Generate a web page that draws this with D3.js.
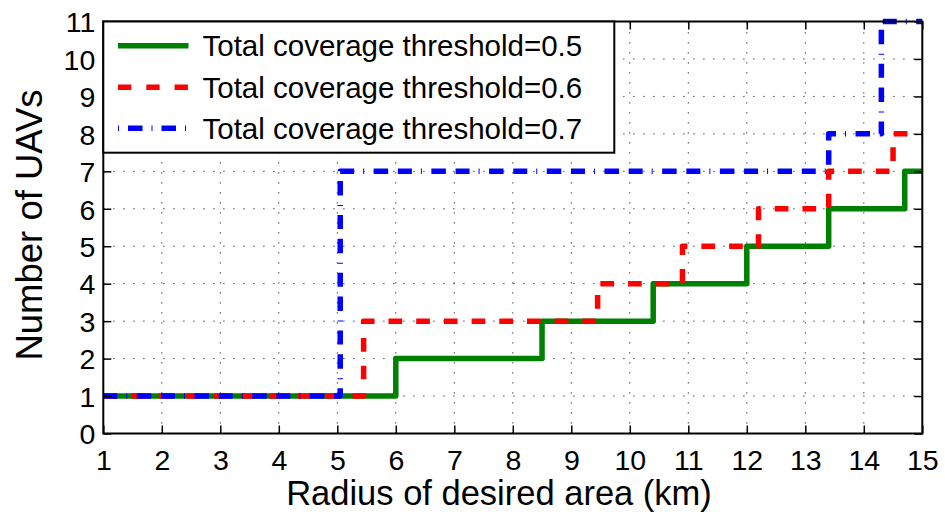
<!DOCTYPE html>
<html><head><meta charset="utf-8">
<script src="https://cdn.jsdelivr.net/npm/d3@7"></script>
<style>
html,body{margin:0;padding:0;background:#fff;}
svg{display:block;font-family:"Liberation Sans",Arial,Helvetica,sans-serif;}
</style></head>
<body><svg id="c" width="945" height="517"></svg>
<script>
const xTicks = [1,2,3,4,5,6,7,8,9,10,11,12,13,14,15];
const yTicks = [0,1,2,3,4,5,6,7,8,9,10,11];
const seriesNames = ["Total coverage threshold=0.5","Total coverage threshold=0.6","Total coverage threshold=0.7"];
const greenX = [1, 6, 8.5, 10.4, 12, 13.4, 14.7, 15];
const greenY = [1, 2, 3, 4, 5, 6, 7, 7];
const redX = [1, 5.45, 9.45, 10.9, 12.2, 13.4, 14.5, 15];
const redY = [1, 3, 4, 5, 6, 7, 8, 8];
const blueX = [1, 5.05, 13.4, 14.3, 15];
const blueY = [1, 7, 8, 11, 11];

const svg = d3.select("#c");
const L = 103.3, R = 922.3, T = 21.5, B = 433.5;
const x = d3.scaleLinear().domain([1,15]).range([L,R]);
const y = d3.scaleLinear().domain([0,11]).range([B,T]);

// grid
const g = svg.append("g");
g.selectAll(".vg").data(xTicks.slice(1,-1)).enter().append("line")
  .attr("x1",d=>x(d)).attr("x2",d=>x(d)).attr("y1",B).attr("y2",T)
  .attr("stroke","#222").attr("stroke-width",1).attr("stroke-dasharray","1.2,8.8");
g.selectAll(".hg").data(yTicks.slice(1,-1)).enter().append("line")
  .attr("y1",d=>y(d)).attr("y2",d=>y(d)).attr("x1",L).attr("x2",R)
  .attr("stroke","#222").attr("stroke-width",1).attr("stroke-dasharray","1.2,8.8");

// series
const series = [
  {xs:greenX, ys:greenY, color:"#008000", dash:null, ldash:null},
  {xs:redX, ys:redY, color:"#ff0000", dash:"13.7,14", ldash:"13.3,15"},
  {xs:blueX, ys:blueY, color:"#0000ff", dash:"14,9,1,9.5,14.5,9.7", ldash:"1,9,14.5,9"}
];
const line = d3.line().x(d=>x(d[0])).y(d=>y(d[1])).curve(d3.curveStepAfter);
series.forEach(s=>{
  const pts = s.xs.map((v,i)=>[v, s.ys[i]]);
  svg.append("path").attr("d",line(pts)).attr("fill","none")
    .attr("stroke",s.color).attr("stroke-width",5.5)
    .attr("stroke-linejoin","round")
    .attr("stroke-dasharray",s.dash);
});

// axes with inward ticks on all sides
const tl = 8;
const xb = d3.axisBottom(x).tickValues(xTicks).tickSizeInner(-tl).tickSizeOuter(0).tickPadding(16);
const yl = d3.axisLeft(y).tickValues(yTicks).tickSizeInner(-tl).tickSizeOuter(0).tickPadding(8);
const xt = d3.axisTop(x).tickValues(xTicks).tickSizeInner(-tl).tickSizeOuter(0).tickFormat("");
const yr = d3.axisRight(y).tickValues(yTicks).tickSizeInner(-tl).tickSizeOuter(0).tickFormat("");
function style(sel){
  sel.select(".domain").remove();
  sel.selectAll("line").attr("stroke","#000").attr("stroke-width",1.5);
  sel.selectAll("text").attr("fill","#000").style("font-size","28.5px")
    .style("font-family","'Liberation Sans',Arial,sans-serif");
}
svg.append("g").attr("transform",`translate(0,${B})`).call(xb).call(style)
  .selectAll("text").attr("dy","0.71em");
svg.append("g").attr("transform",`translate(${L},0)`).call(yl).call(style)
  .selectAll("text").attr("dy","0.36em");
svg.append("g").attr("transform",`translate(0,${T})`).call(xt).call(style);
svg.append("g").attr("transform",`translate(${R},0)`).call(yr).call(style);

svg.append("rect").attr("x",L).attr("y",T).attr("width",R-L).attr("height",B-T)
  .attr("fill","none").attr("stroke","#000").attr("stroke-width",2);

// legend
const lg = svg.append("g");
lg.append("rect").attr("x",L).attr("y",T).attr("width",614.3-L).attr("height",152.7-T)
  .attr("fill","#fff").attr("stroke","#000").attr("stroke-width",2);
const rowsY = [45.7, 87.3, 128.3];
series.forEach((s,i)=>{
  lg.append("line").attr("x1",118).attr("x2",188.5).attr("y1",rowsY[i]).attr("y2",rowsY[i])
    .attr("stroke",s.color).attr("stroke-width",5.5).attr("stroke-dasharray",s.ldash);
  lg.append("text").attr("x",202.5).attr("y",rowsY[i]).attr("dy","0.36em")
    .style("font-size","29.5px").attr("fill","#000").text(seriesNames[i]);
});

// axis labels
svg.append("text").attr("x",499).attr("y",505).attr("text-anchor","middle")
  .style("font-size","34.5px").attr("fill","#000").text("Radius of desired area (km)");
svg.append("text").attr("transform","translate(42,225) rotate(-90)").attr("text-anchor","middle")
  .style("font-size","36.5px").attr("fill","#000").text("Number of UAVs");
</script></body></html>
